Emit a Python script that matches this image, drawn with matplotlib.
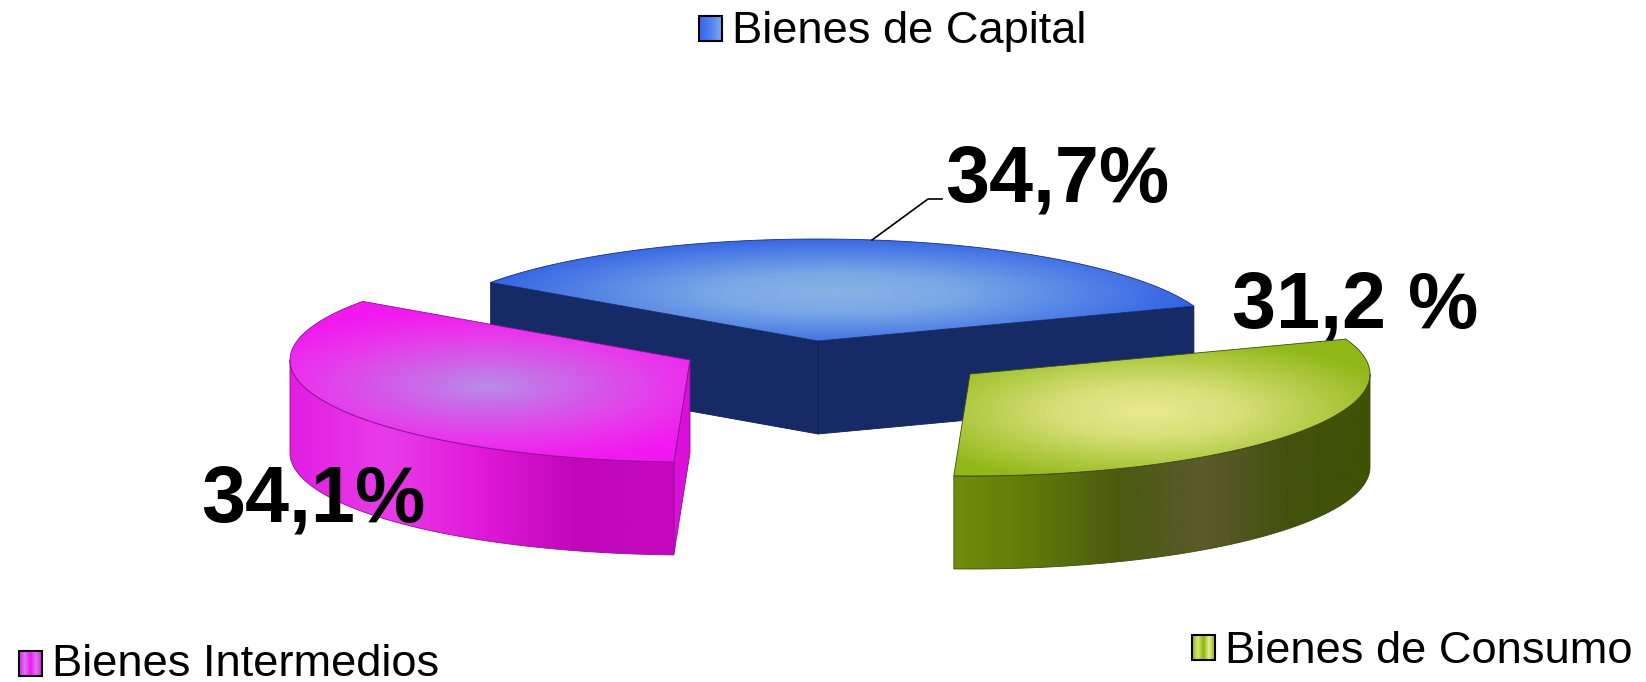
"""
Exploded 3D pie of imports by type of good, drawn on a pixel canvas.
"""
import matplotlib

matplotlib.use("Agg")
import matplotlib.pyplot as plt
import numpy as np
from matplotlib.colors import LinearSegmentedColormap
from matplotlib.patches import PathPatch, Polygon
from matplotlib.path import Path

categories = ["Bienes de Capital", "Bienes Intermedios", "Bienes de Consumo"]
shares = [34.7, 34.1, 31.2]
value_labels = ["34,7%", "34,1%", "31,2 %"]

WIDTH, HEIGHT = 1646, 682
START_ANGLE = 20.0
RX, RY, DEPTH = 400.0, 102.0, 93.0

# Apex of every exploded slice, in pixels
apex = [(818, 341), (690, 360), (970, 374)]
# Centre and reach of the highlight on the top faces
glow = [(835, 292, 365, 58), (487, 385, 270, 78), (1147, 410, 260, 75)]
top_colors = [
    ["#86b3e6", "#7aa8e6", "#5585e6", "#3160e4"],
    ["#b98cea", "#d060e8", "#e838ec", "#f218f0"],
    ["#e9e98e", "#d8e07a", "#b4cc48", "#90b818"],
]
edge_colors = ["#1b2f6e", "#8a1290", "#3d4a12"]
side_color_blue = "#152a66"
side_magenta = ["#e21ee2", "#e83ce8", "#e018d8", "#c008b8", "#c808c0"]
side_green = ["#708c0a", "#5f7808", "#4a5a10", "#5a5a2c", "#42520e", "#3f5204"]
strip_magenta = "#d810d8"

legend_boxes = [(699, 16), (19, 651), (1192, 635)]
legend_text = [(732, 43), (52, 676), (1225, 663)]
legend_cols = [
    ["#3566ee", "#4f80f0", "#7ea8f0"],
    ["#f018f0", "#d878f0", "#f018f0", "#d878f0", "#f018f0"],
    ["#8cb410", "#d8e870", "#8cb410", "#e8f090", "#8cb410"],
]
label_pos = [(945, 202), (201, 522), (1232, 327)]


def arc(center, a0, a1, drop=0.0, n=120):
    """Points along the pie ellipse between two angles (degrees)."""
    t = np.radians(np.linspace(a0, a1, n))
    x = center[0] + RX * np.cos(t)
    y = center[1] - RY * np.sin(t) + drop
    return np.column_stack([x, y])


def clipped_image(ax, data, extent, cmap, poly, zorder):
    """Paint an array and clip it to a polygon."""
    im = ax.imshow(data, extent=extent, cmap=cmap, vmin=0, vmax=1,
                   aspect="auto", zorder=zorder, interpolation="bilinear")
    patch = PathPatch(Path(poly), transform=ax.transData, fc="none", ec="none")
    ax.add_patch(patch)
    im.set_clip_path(patch)


def top_face(ax, center, a0, a1, colors, reach, edge, zorder):
    poly = np.vstack([center, arc(center, a0, a1), center])
    cmap = LinearSegmentedColormap.from_list("top", colors)
    xx, yy = np.meshgrid(np.arange(0, WIDTH, 2), np.arange(0, HEIGHT, 2))
    cx, cy, rx, ry = reach
    t = np.sqrt(((xx - cx) / rx) ** 2 + ((yy - cy) / ry) ** 2)
    clipped_image(ax, np.clip(t, 0, 1), (0, WIDTH, HEIGHT, 0), cmap, poly, zorder)
    ax.add_patch(Polygon(poly, closed=True, fc="none", ec=edge, lw=0.6, zorder=zorder + 0.1))


def outer_side(ax, center, a0, a1, colors, edge, zorder):
    upper = arc(center, a0, a1)
    lower = arc(center, a0, a1, DEPTH)[::-1]
    poly = np.vstack([upper, lower, upper[:1]])
    cmap = LinearSegmentedColormap.from_list("side", colors)
    x0, x1 = poly[:, 0].min(), poly[:, 0].max()
    clipped_image(ax, np.linspace(0, 1, 300).reshape(1, -1), (x0, x1, HEIGHT, 0), cmap, poly, zorder)
    ax.add_patch(Polygon(poly, closed=True, fc="none", ec=edge, lw=0.6, zorder=zorder + 0.1))


def main():
    plt.rcParams["font.family"] = ["Liberation Sans", "DejaVu Sans"]
    fig = plt.figure(figsize=(WIDTH / 100, HEIGHT / 100), dpi=100)
    ax = fig.add_axes([0, 0, 1, 1])

    # Angles follow from the shares
    spans = np.array(shares) / sum(shares) * 360.0
    starts = START_ANGLE + np.concatenate([[0], np.cumsum(spans)[:-1]])
    ends = starts + spans

    # Blue slice: two cut faces, then the top
    c = apex[0]
    for ang in (starts[0], ends[0]):
        p = arc(c, ang, ang, n=1)[0]
        face = [c, p, (p[0], p[1] + DEPTH), (c[0], c[1] + DEPTH)]
        ax.add_patch(Polygon(face, closed=True, fc=side_color_blue, ec="#101f50", lw=0.6, zorder=1))
    top_face(ax, c, starts[0], ends[0], top_colors[0], glow[0], edge_colors[0], 2)

    # Magenta slice
    c = apex[1]
    lower_pt = arc(c, ends[1], ends[1], n=1)[0]
    strip = [c, lower_pt, (lower_pt[0], lower_pt[1] + DEPTH), (c[0], c[1] + DEPTH)]
    ax.add_patch(Polygon(strip, closed=True, fc=strip_magenta, ec=edge_colors[1], lw=0.6, zorder=4))
    outer_side(ax, c, 180, ends[1], side_magenta, edge_colors[1], 5)
    top_face(ax, c, starts[1], ends[1], top_colors[1], glow[1], edge_colors[1], 6)

    # Green slice
    c = apex[2]
    outer_side(ax, c, starts[2], 360, side_green, edge_colors[2], 8)
    top_face(ax, c, starts[2], ends[2], top_colors[2], glow[2], edge_colors[2], 9)

    # Leader line of the blue label
    ax.plot([872, 928, 942], [240, 199, 199], color="black", lw=1.2, zorder=11)

    for name, box, txt, cols in zip(categories, legend_boxes, legend_text, legend_cols):
        cmap = LinearSegmentedColormap.from_list("key", cols)
        ext = (box[0], box[0] + 23, box[1] + 25, box[1])
        ax.imshow(np.linspace(0, 1, 40).reshape(1, -1), extent=ext, cmap=cmap,
                  aspect="auto", zorder=12)
        ax.add_patch(plt.Rectangle((box[0], box[1]), 23, 25, fc="none", ec="black", lw=1.5, zorder=13))
        ax.text(txt[0], txt[1], name, fontsize=32.6, ha="left", va="baseline", color="black", zorder=13)

    for label, pos in zip(value_labels, label_pos):
        ax.text(pos[0], pos[1], label, fontsize=57, fontweight="bold",
                ha="left", va="baseline", color="black", zorder=14)

    ax.set_xlim(0, WIDTH)
    ax.set_ylim(HEIGHT, 0)
    ax.axis("off")
    fig.savefig("out.png", dpi=100, facecolor="white")


if __name__ == "__main__":
    main()
